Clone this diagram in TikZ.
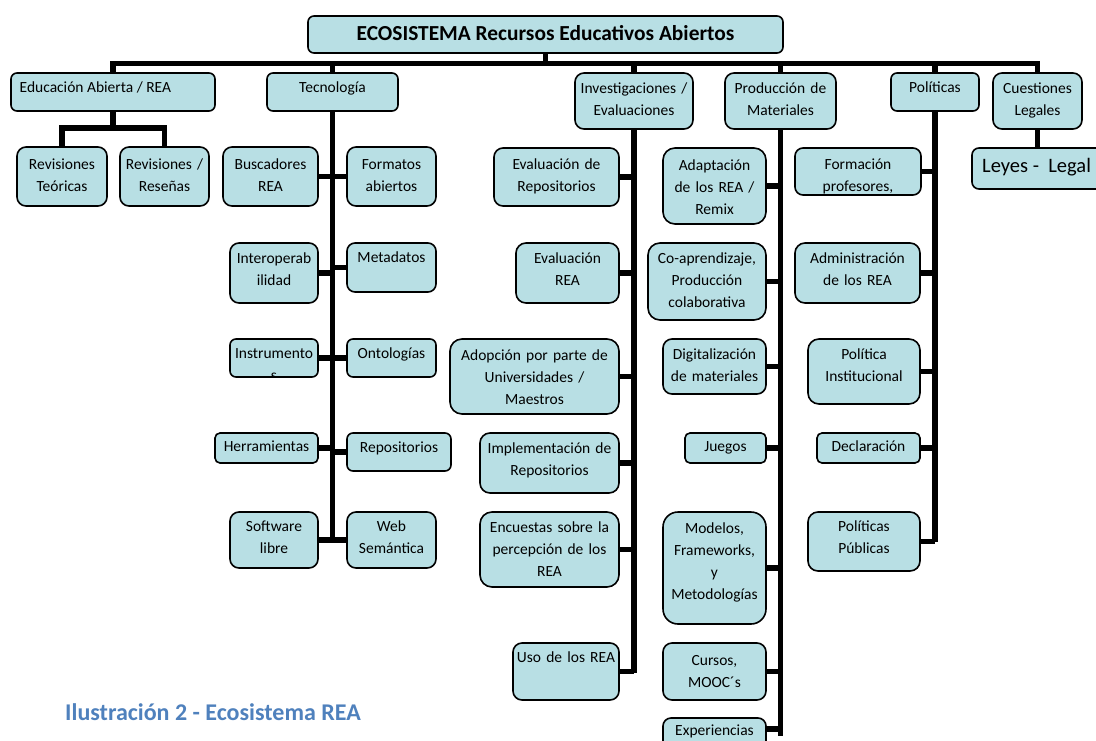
\documentclass[tikz,border=0pt]{standalone}
\usepackage{fontspec}
\setmainfont{Carlito}
\pgfdeclarelayer{bgzero}
\pgfdeclarelayer{bgone}
\pgfsetlayers{bgzero,bgone,main}
\definecolor{boxfill}{RGB}{184,223,228}
\definecolor{capblue}{RGB}{79,129,189}
\tikzset{
  ebx/.style={draw=black, line width=1.6pt, fill=boxfill, inner sep=0pt, outer sep=0pt},
  etx/.style={anchor=base, align=center, inner sep=0pt, font=\fontsize{15.5}{22}\selectfont},
  conn/.style={draw=black, line width=5.5pt, line join=miter},
}
% box only: name, x1, y1, x2, y2, radius
\newcommand\eshape[6]{%
  \node[ebx, rounded corners=#6, minimum width={#4-#2}, minimum height={#5-#3}] (#1) at ({(#2+#4)/2},{(#3+#5)/2}) {};}
% box with centred text: name, x1, y1, x2, y2, radius, first baseline, text
\newcommand\ebox[8]{%
  \eshape{#1}{#2}{#3}{#4}{#5}{#6}%
  \node[etx, text width={#4-#2}] (#1-t) at ({(#2+#4)/2},#7) {#8};}
\begin{document}
\begin{tikzpicture}[x=1pt,y=-1pt]
\useasboundingbox (0,0) rectangle (1096,740);
\begin{pgfonlayer}{bgzero}\fill[white] (0,0) rectangle (1096,740);\end{pgfonlayer}
\clip (0,0) rectangle (1096,740);

% title
\eshape{top}{308}{16}{783}{53}{6}
\node[anchor=base, inner sep=0pt, font=\bfseries\fontsize{21.4}{25}\selectfont] (top-t) at (545.5,40.5) {ECOSISTEMA Recursos Educativos Abiertos};

% level 1
\eshape{edu}{11}{73}{215}{111}{6}
\node[anchor=base west, inner sep=0pt, font=\fontsize{15.5}{22}\selectfont] (edu-t) at (19.5,92) {Educación Abierta / REA};
\ebox{tec}{267}{73}{398}{111}{6}{92}{Tecnología}
\ebox{inv}{575}{73}{693}{129}{9}{93}{Investigaciones /\\Evaluaciones}
\ebox{pro}{725}{73}{836}{129}{9}{93}{Producción de\\Materiales}
\ebox{pol}{891}{73}{979}{111}{6}{92}{Políticas}
\ebox{cue}{993}{73}{1082}{129}{9}{93}{Cuestiones\\Legales}
\eshape{ley}{972}{148}{1110}{189}{7}
\node[anchor=base west, inner sep=0pt, font=\fontsize{20.5}{24}\selectfont] (ley-t) at (982,172) {Leyes - \ Legal};

% Educacion children
\ebox{rt}{17}{147}{107}{206}{9}{169}{Revisiones\\Teóricas}
\ebox{rr}{120}{147}{209}{206}{9}{169}{Revisiones /\\Reseñas}

% Tecnologia children
\ebox{bus}{223}{147}{318}{206}{9}{169}{Buscadores\\REA}
\ebox{fmt}{347}{147}{436}{206}{9}{169}{Formatos\\abiertos}
\ebox{int}{230}{243}{318}{303}{9}{263}{Interoperab\\ilidad}
\ebox{met}{347}{243}{436}{292}{8}{262}{Metadatos}
\eshape{ins}{230}{339}{318}{377}{6}
\begin{scope}
  \clip[rounded corners=6] (230,339) rectangle (318,377);
  \node[etx, text width=88] (ins-t) at (274,358) {Instrumento\\s};
\end{scope}
\ebox{ont}{347}{339}{436}{377}{6}{358}{Ontologías}
\ebox{her}{215}{433}{318}{463}{5}{451}{Herramientas}
\ebox{rep}{347}{433}{451}{471}{6}{452}{Repositorios}
\ebox{sof}{230}{512}{318}{568}{9}{531}{Software\\libre}
\ebox{web}{347}{512}{436}{568}{9}{531}{Web\\Semántica}

% Investigaciones children
\ebox{evr}{494}{148}{619}{206}{9}{169}{Evaluación de\\Repositorios}
\ebox{eva}{516}{243}{619}{303}{10}{263}{Evaluación\\REA}
\ebox{ado}{450}{339}{619}{414}{12}{360}{Adopción por parte de\\Universidades /\\Maestros}
\ebox{imp}{480}{433}{619}{493}{10}{453}{Implementación de\\Repositorios}
\ebox{enc}{480}{512}{619}{587}{12}{532}{Encuestas sobre la\\percepción de los\\REA}
\ebox{uso}{513}{643}{619}{700}{9}{662}{Uso de los REA}

% Produccion children
\ebox{ada}{663}{148}{766}{224}{12}{170}{Adaptación\\de los REA /\\Remix}
\ebox{coa}{648}{243}{766}{320}{12}{263}{Co-aprendizaje,\\Producción\\colaborativa}
\ebox{dig}{663}{339}{766}{394}{9}{359}{Digitalización\\de materiales}
\ebox{jue}{685}{433}{766}{463}{5}{451}{Juegos}
\ebox{mod}{663}{512}{766}{624}{15}{533}{Modelos,\\Frameworks,\\y\\Metodologías}
\ebox{cur}{663}{643}{766}{700}{9}{665}{Cursos,\\MOOC´s}
\ebox{exp}{663}{718}{766}{770}{8}{735}{Experiencias}

% Politicas children
\ebox{fop}{795}{148}{921}{195}{8}{169}{Formación\\profesores,}
\ebox{adm}{795}{243}{920}{303}{10}{263}{Administración\\de los REA}
\ebox{pin}{808}{339}{920}{404}{11}{359}{Política\\Institucional}
\ebox{dec}{817}{433}{920}{463}{5}{451}{Declaración}
\ebox{ppu}{808}{512}{920}{571}{10}{531}{Políticas\\Públicas}

% caption
\node[anchor=base west, inner sep=0pt, text=capblue, font=\bfseries\fontsize{24}{28}\selectfont] (cap) at (65,720) {Ilustración 2 - Ecosistema REA};

% connectors
\coordinate (bar) at (0,63.5);
\coordinate (eduj) at (113,128);
\coordinate (tecend) at (332.5,542);
\coordinate (invend) at (634,673);
\coordinate (proend) at (780.5,736);
\coordinate (polend) at (935,542);
\begin{pgfonlayer}{bgone}
  \draw[conn] (top.south) -- (top.south |- bar);
  \draw[conn] (edu.north) -- (edu.north |- bar) -| (cue.north);
  \foreach \n in {tec,inv,pro,pol} \draw[conn] (\n.north) -- (\n.north |- bar);
  \draw[conn] (cue.south) -- (cue.south |- ley.north);
  \draw[conn] (edu.south) -- (eduj);
  \draw[conn] (rt.north) |- (eduj) -| (rr.north);
  \draw[conn] (tec.south) -- (tecend);
  \foreach \n in {bus,int,ins,her,sof} \draw[conn] (\n.east) -- (\n.east -| tecend);
  \foreach \n in {fmt,met,ont,rep,web} \draw[conn] (\n.west) -- (\n.west -| tecend);
  \draw[conn] (inv.south) -- (invend);
  \foreach \n in {evr,eva,ado,imp,enc,uso} \draw[conn] (\n.east) -- (\n.east -| invend);
  \draw[conn] (pro.south) -- (proend);
  \foreach \n in {ada,coa,dig,jue,mod,cur} \draw[conn] (\n.east) -- (\n.east -| proend);
  \draw[conn] ([yshift=-11pt]exp.north east) -- ([yshift=-11pt]exp.north east -| proend);
  \draw[conn] (pol.south) -- (polend);
  \foreach \n in {fop,adm,pin,dec,ppu} \draw[conn] (\n.east) -- (\n.east -| polend);
\end{pgfonlayer}
\end{tikzpicture}
\end{document}
